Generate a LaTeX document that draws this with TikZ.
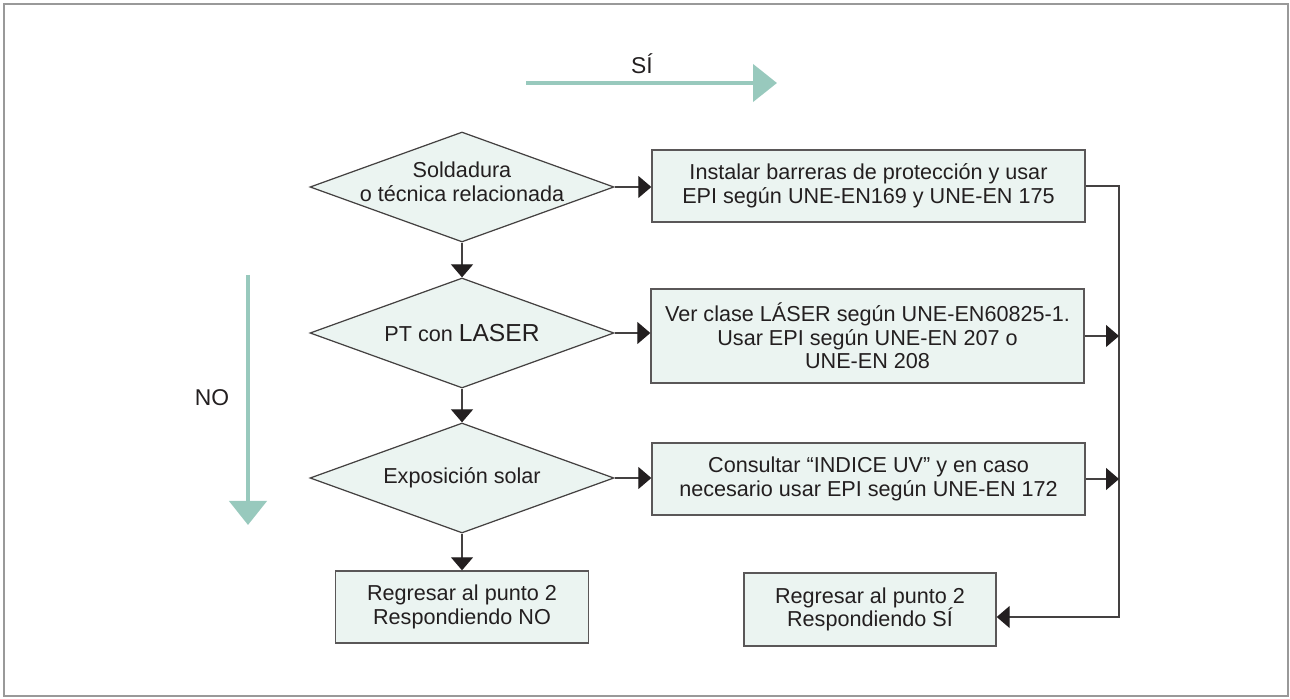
\documentclass[tikz,border=0pt]{standalone}
\usepackage{fontspec}
\setmainfont{Liberation Sans}
\usepackage{xcolor}
\usepackage{tikz}
\usetikzlibrary{shapes,arrows.meta}

\definecolor{mint}{RGB}{235,244,241}
\definecolor{teal}{RGB}{152,201,189}
\definecolor{ink}{RGB}{35,31,32}

\tikzset{
    decision/.style={shape=diamond, draw=ink!85, line width=0.7pt, fill=mint, inner sep=0pt,
        minimum width=6.08cm, minimum height=2.2cm},
    action/.style={rectangle, draw=ink!75, line width=0.8pt, fill=mint, align=center,
        minimum width=8.66cm, text=ink, font=\fontsize{12.3}{13.4}\selectfont},
    inside/.style={align=center, text=ink, font=\fontsize{12.3}{13.4}\selectfont},
    flow/.style={draw=ink!85, line width=0.7pt, -{Triangle[length=2.6mm, width=4.4mm, color=ink]}},
    bigarrow/.style={draw=teal, line width=2.6pt, -{Triangle[length=4.8mm, width=7.4mm]}},
    tag/.style={text=ink, font=\fontsize{13}{15}\selectfont}
}

\begin{document}
\begin{tikzpicture}
    \useasboundingbox (0,0) rectangle (25.8,-13.98);
    % Frame
    \draw[gray!80, line width=0.6pt] (0.08,-0.08) rectangle (25.76,-13.92);

    % Direction arrows
    \coordinate (siA) at (10.52,-1.66);
    \coordinate (siB) at (15.54,-1.66);
    \draw[bigarrow] (siA) -- (siB);
    \node[tag] (si) at (12.84,-1.28) {SÍ};

    \coordinate (noA) at (4.96,-5.5);
    \coordinate (noB) at (4.96,-10.5);
    \draw[bigarrow] (noA) -- (noB);
    \node[tag] (no) at (4.24,-7.96) {NO};

    % Decisions
    \node[decision, label={[inside, yshift=1mm]center:Soldadura\\o técnica relacionada}] (dec1) at (9.24,-3.74) {};
    \node[decision, label={[inside]center:PT con {\fontsize{14}{14}\selectfont LASER}}] (dec2) at (9.24,-6.66) {};
    \node[decision, label={[inside]center:Exposición solar}] (dec3) at (9.24,-9.56) {};

    % Actions
    \node[action, minimum height=1.44cm] (act1) at (17.37,-3.72)
        {Instalar barreras de protección y usar\\EPI según UNE-EN169 y UNE-EN 175};
    \node[action, minimum height=1.88cm] (act2) at (17.35,-6.72)
        {Ver clase LÁSER según UNE-EN60825-1.\\Usar EPI según UNE-EN 207 o\\UNE-EN 208};
    \node[action, minimum height=1.44cm] (act3) at (17.37,-9.58)
        {Consultar “INDICE UV” y en caso\\necesario usar EPI según UNE-EN 172};

    % Returns
    \node[action, minimum width=5.06cm, minimum height=1.44cm] (endno) at (9.24,-12.14)
        {Regresar al punto 2\\Respondiendo NO};
    \node[action, minimum width=5.04cm, minimum height=1.46cm] (endsi) at (17.4,-12.19)
        {Regresar al punto 2\\Respondiendo SÍ};

    % Connectors
    \coordinate (rail) at (22.38,0);
    \draw[flow] (dec1.east) -- (dec1.east -| act1.west);
    \draw[flow] (dec2.east) -- (dec2.east -| act2.west);
    \draw[flow] (dec3.east) -- (dec3.east -| act3.west);
    \draw[flow] (dec1.south) -- (dec2.north);
    \draw[flow] (dec2.south) -- (dec3.north);
    \draw[flow] (dec3.south) -- (endno.north);
    \draw[flow] (act1.east) -- (act1.east -| rail) |- ([yshift=-1.5mm]endsi.east);
    \draw[flow] (act2.east) -- (act2.east -| rail);
    \draw[flow] (act3.east) -- (act3.east -| rail);
\end{tikzpicture}
\end{document}
